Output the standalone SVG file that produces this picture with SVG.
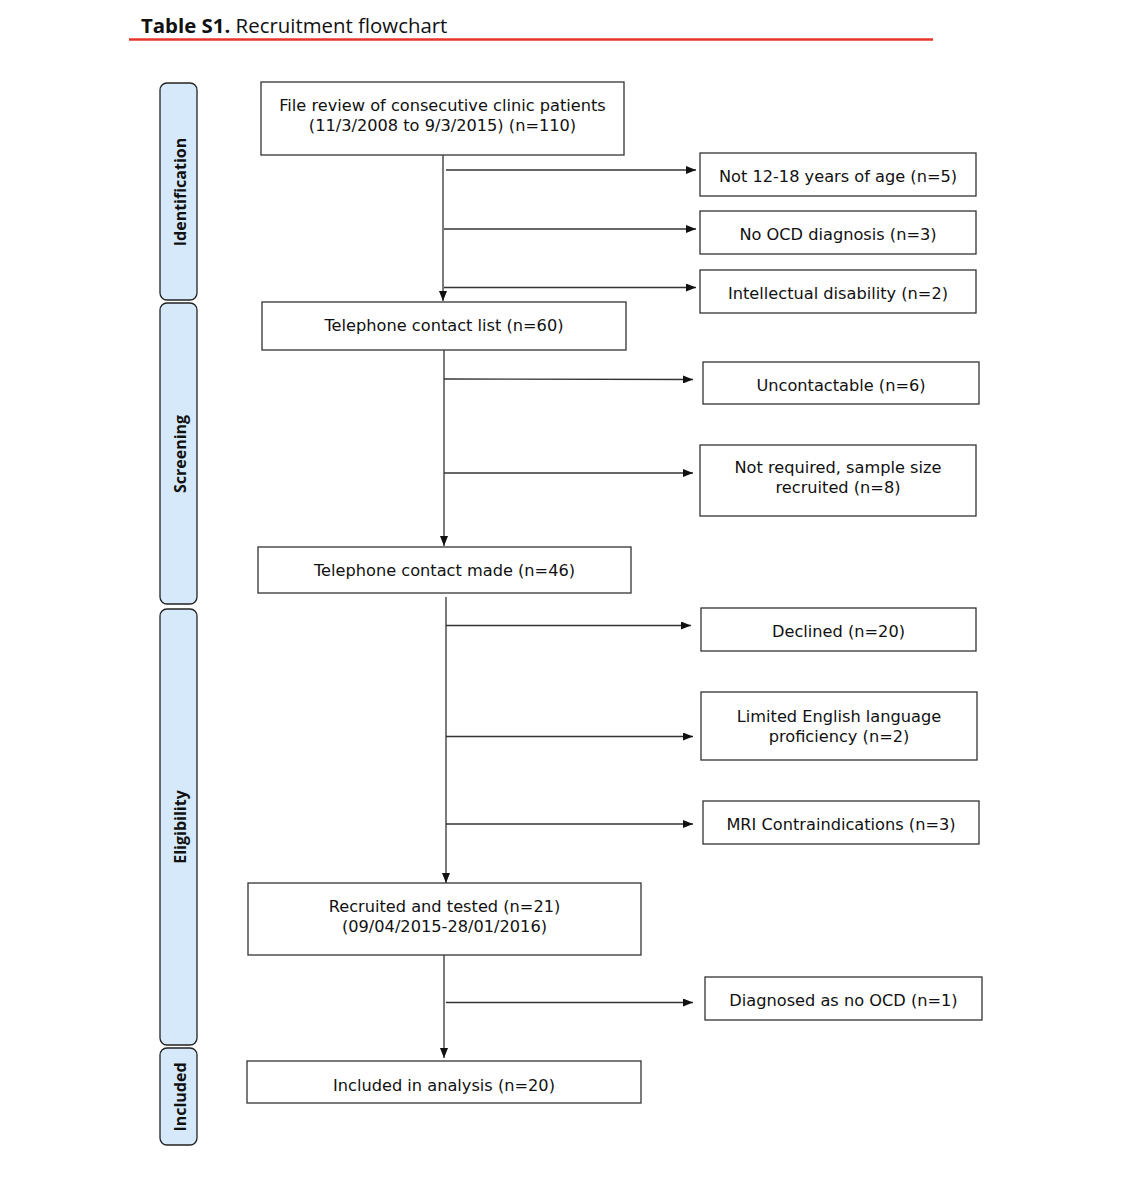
<svg xmlns="http://www.w3.org/2000/svg" width="1124" height="1186" viewBox="0 0 1124 1186">
<style>
.box{fill:#fff;stroke:#333;stroke-width:1.3}
.lane{fill:#d6e9fb;stroke:#222;stroke-width:1.3}
.t{font-family:"DejaVu Sans",Verdana,sans-serif;font-size:16.2px;fill:#111;text-anchor:middle}
.lt{font-family:"Open Sans","Liberation Sans",sans-serif;font-size:16px;font-weight:bold;fill:#111;text-anchor:middle}
.c{stroke:#333;stroke-width:1.3;fill:none;marker-end:url(#ah)}
</style>
<defs>
<marker id="ah" markerWidth="10" markerHeight="8" refX="10" refY="4" orient="auto" markerUnits="userSpaceOnUse">
<path d="M0,0 L10,4 L0,8 Z" fill="#111"/>
</marker>
</defs>
<rect width="1124" height="1186" fill="#fff"/>
<g id="title">
<text x="141" y="33" font-family="Open Sans,Liberation Sans,sans-serif" font-size="20.4" fill="#111"><tspan font-weight="bold">Table S1.</tspan> Recruitment flowchart</text>
<line x1="129" y1="39.5" x2="933" y2="39.5" stroke="#e8352c" stroke-width="2.5"/>
</g>
<g id="lane-identification"><rect class="lane" x="160" y="83" width="37" height="217" rx="7"/><text class="lt" transform="translate(186,192) rotate(-90)">Identification</text></g>
<g id="lane-screening"><rect class="lane" x="160" y="303" width="37" height="301" rx="7"/><text class="lt" transform="translate(186,454) rotate(-90)">Screening</text></g>
<g id="lane-eligibility"><rect class="lane" x="160" y="609" width="37" height="436" rx="7"/><text class="lt" transform="translate(186,827) rotate(-90)">Eligibility</text></g>
<g id="lane-included"><rect class="lane" x="160" y="1048" width="37" height="97" rx="7"/><text class="lt" transform="translate(186,1097) rotate(-90)">Included</text></g>

<g id="connectors">
<line class="c" x1="443" y1="155" x2="443" y2="301"/>
<line class="c" x1="444" y1="350" x2="444" y2="546"/>
<line class="c" x1="446" y1="597" x2="446" y2="883"/>
<line class="c" x1="444" y1="955" x2="444" y2="1058"/>
<line class="c" x1="446" y1="170" x2="696" y2="170"/>
<line class="c" x1="444" y1="229" x2="696" y2="229"/>
<line class="c" x1="444" y1="287.5" x2="696" y2="287.5"/>
<line class="c" x1="444" y1="379" x2="693" y2="379.5"/>
<line class="c" x1="444" y1="473" x2="693" y2="473"/>
<line class="c" x1="446" y1="625.5" x2="691" y2="625.5"/>
<line class="c" x1="446" y1="736.5" x2="693" y2="736.5"/>
<line class="c" x1="446" y1="824" x2="693" y2="824"/>
<line class="c" x1="446" y1="1002.5" x2="693" y2="1002.5"/>
</g>

<g id="n-file-review"><rect class="box" x="261" y="82" width="363" height="73"/><text class="t" x="442.5" y="111">File review of consecutive clinic patients</text><text class="t" x="442.5" y="131">(11/3/2008 to 9/3/2015) (n=110)</text></g>
<g id="n-not-age"><rect class="box" x="700" y="153" width="276" height="43"/><text class="t" x="838" y="182">Not 12-18 years of age (n=5)</text></g>
<g id="n-no-ocd"><rect class="box" x="700" y="211" width="276" height="43"/><text class="t" x="838" y="240">No OCD diagnosis (n=3)</text></g>
<g id="n-intellectual"><rect class="box" x="700" y="270" width="276" height="43"/><text class="t" x="838" y="299">Intellectual disability (n=2)</text></g>
<g id="n-contact-list"><rect class="box" x="262" y="302" width="364" height="48"/><text class="t" x="444" y="331">Telephone contact list (n=60)</text></g>
<g id="n-uncontactable"><rect class="box" x="703" y="362" width="276" height="42"/><text class="t" x="841" y="391">Uncontactable (n=6)</text></g>
<g id="n-not-required"><rect class="box" x="700" y="445" width="276" height="71"/><text class="t" x="838" y="473">Not required, sample size</text><text class="t" x="838" y="493">recruited (n=8)</text></g>
<g id="n-contact-made"><rect class="box" x="258" y="547" width="373" height="46"/><text class="t" x="444.5" y="576">Telephone contact made (n=46)</text></g>
<g id="n-declined"><rect class="box" x="701" y="608" width="275" height="43"/><text class="t" x="838.5" y="637">Declined (n=20)</text></g>
<g id="n-english"><rect class="box" x="701" y="692" width="276" height="68"/><text class="t" x="839" y="722">Limited English language</text><text class="t" x="839" y="742">proficiency (n=2)</text></g>
<g id="n-mri"><rect class="box" x="703" y="801" width="276" height="43"/><text class="t" x="841" y="830">MRI Contraindications (n=3)</text></g>
<g id="n-recruited"><rect class="box" x="248" y="883" width="393" height="72"/><text class="t" x="444.5" y="912">Recruited and tested (n=21)</text><text class="t" x="444.5" y="932">(09/04/2015-28/01/2016)</text></g>
<g id="n-no-ocd2"><rect class="box" x="705" y="977" width="277" height="43"/><text class="t" x="843.5" y="1006">Diagnosed as no OCD (n=1)</text></g>
<g id="n-included"><rect class="box" x="247" y="1061" width="394" height="42"/><text class="t" x="444" y="1091">Included in analysis (n=20)</text></g>
</svg>
